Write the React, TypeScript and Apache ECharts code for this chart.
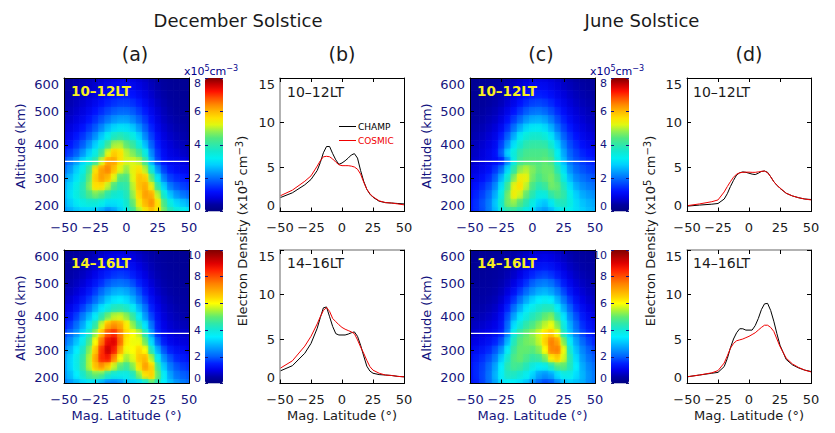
import React, { useEffect, useRef } from "react";
import * as echarts from "echarts";

// Latitude / altitude grids of the colour maps
const mapLats = [-50,-45,-40,-35,-30,-25,-20,-15,-10,-5,0,5,10,15,20,25,30,35,40,45,50];
const mapAlts = [600,575,550,525,500,475,450,425,400,375,350,325,300,275,250,225,200];

const decMorning = [
[.35,.38,.42,.48,.55,.62,.7,.78,.85,.9,.9,.85,.75,.65,.52,.42,.35,.3,.28,.26,.25],
[.38,.42,.48,.55,.62,.72,.82,.92,1.0,1.05,1.05,1.0,.88,.75,.6,.48,.4,.34,.3,.28,.27],
[.42,.47,.54,.62,.72,.84,.96,1.1,1.2,1.28,1.28,1.2,1.05,.88,.7,.55,.45,.38,.33,.3,.28],
[.46,.53,.62,.72,.85,1.0,1.16,1.33,1.47,1.56,1.56,1.46,1.28,1.05,.82,.64,.5,.42,.36,.33,.3],
[.52,.6,.7,.84,1.0,1.2,1.42,1.64,1.83,1.93,1.93,1.8,1.55,1.27,.98,.74,.57,.46,.4,.36,.33],
[.6,.7,.84,1.0,1.22,1.47,1.77,2.05,2.3,2.42,2.4,2.2,1.9,1.53,1.15,.85,.64,.52,.45,.4,.36],
[.72,.84,1.0,1.22,1.5,1.82,2.2,2.6,2.9,3.05,3.0,2.75,2.35,1.85,1.36,.98,.73,.6,.5,.45,.4],
[.86,1.0,1.24,1.5,1.85,2.27,2.75,3.25,3.75,3.9,3.7,3.4,2.85,2.2,1.6,1.14,.83,.68,.58,.5,.45],
[1.05,1.24,1.5,1.85,2.3,2.8,3.4,4.15,4.9,4.95,4.5,4.1,3.45,2.65,1.88,1.3,.95,.78,.66,.58,.5],
[1.35,1.55,1.85,2.3,2.8,3.35,4.2,5.2,5.8,5.6,5.0,4.7,4.25,3.4,2.2,1.48,1.08,.88,.78,.68,.6],
[1.75,2.05,2.4,2.9,3.4,4.0,5.1,6.15,6.15,5.55,5.15,5.15,5.0,4.2,2.5,1.65,1.2,1.0,.95,.85,.75],
[2.0,2.35,2.8,3.3,4.2,5.6,6.2,6.4,5.9,5.2,4.8,5.3,5.6,5.0,3.5,2.3,1.6,1.25,1.1,1.0,.95],
[2.3,2.65,3.05,3.6,4.5,5.8,6.2,6.0,5.2,4.4,4.3,5.2,5.9,5.8,4.5,3.1,2.1,1.6,1.4,1.3,1.2],
[2.5,2.9,3.35,3.85,4.7,5.6,5.6,5.0,4.3,3.9,4.0,5.0,5.9,6.1,5.4,4.0,2.8,2.1,1.8,1.6,1.5],
[2.6,3.0,3.4,3.8,4.3,4.6,4.4,3.9,3.6,3.5,3.8,4.8,5.7,6.2,6.1,5.0,3.6,2.7,2.3,2.05,1.9],
[2.5,2.8,3.1,3.35,3.5,3.5,3.3,3.0,3.0,3.1,3.6,4.5,5.4,6.0,6.3,5.6,4.3,3.4,2.9,2.7,2.5],
[2.3,2.5,2.7,2.8,2.8,2.75,2.5,2.2,2.4,2.8,3.3,4.1,4.9,5.5,5.9,5.5,4.6,3.9,3.5,3.3,3.1],
];
const decAfternoon = [
[.3,.33,.37,.42,.5,.58,.68,.78,.85,.88,.85,.78,.66,.55,.45,.38,.33,.3,.27,.25,.24],
[.33,.37,.42,.5,.58,.7,.83,.96,1.05,1.1,1.06,.95,.8,.66,.53,.43,.36,.32,.3,.27,.25],
[.37,.42,.5,.58,.7,.85,1.03,1.2,1.33,1.38,1.33,1.18,.98,.8,.62,.5,.41,.35,.32,.29,.27],
[.42,.5,.58,.7,.86,1.06,1.3,1.5,1.65,1.72,1.65,1.45,1.2,.96,.73,.57,.46,.39,.35,.31,.29],
[.5,.58,.7,.86,1.08,1.34,1.62,1.92,2.12,2.2,2.1,1.85,1.5,1.18,.87,.66,.52,.44,.38,.34,.32],
[.58,.7,.86,1.08,1.36,1.7,2.1,2.5,2.8,2.9,2.75,2.4,1.9,1.44,1.05,.78,.6,.5,.43,.38,.35],
[.72,.86,1.08,1.36,1.7,2.1,2.6,3.1,3.4,3.5,3.3,2.9,2.3,1.75,1.25,.92,.7,.57,.48,.42,.38],
[.9,1.08,1.36,1.75,2.2,2.8,3.4,3.9,4.3,4.4,4.2,3.7,2.9,2.2,1.5,1.08,.8,.65,.55,.47,.42],
[1.1,1.36,1.75,2.3,2.9,3.6,4.4,5.1,5.6,5.7,5.3,4.6,3.6,2.6,1.8,1.25,.9,.73,.62,.55,.5],
[1.38,1.7,2.15,2.75,3.6,4.5,5.7,6.9,7.3,7.0,6.2,5.3,4.4,3.4,2.2,1.4,1.02,.83,.72,.65,.6],
[1.7,2.1,2.55,3.2,4.2,5.3,6.7,8.0,8.4,7.5,6.35,6.0,5.6,4.3,2.6,1.55,1.15,.95,.85,.8,.75],
[2.05,2.5,3.05,3.75,4.75,6.0,7.6,8.8,9.0,7.7,6.2,5.9,5.9,5.1,3.3,2.0,1.4,1.1,.98,.92,.88],
[2.4,2.9,3.5,4.2,5.2,6.6,8.3,9.2,8.6,7.0,5.9,6.0,6.4,6.0,4.3,2.8,1.9,1.45,1.25,1.15,1.05],
[2.7,3.2,3.8,4.5,5.5,7.0,8.4,8.6,7.4,6.0,5.4,5.8,6.6,6.8,5.5,3.7,2.5,1.9,1.55,1.4,1.3],
[2.7,3.2,3.8,4.55,5.5,6.7,7.2,6.6,5.6,4.9,4.6,5.2,6.3,7.1,6.5,4.6,3.1,2.3,1.9,1.7,1.6],
[2.6,3.0,3.5,4.1,4.7,5.0,4.8,4.2,3.9,3.8,3.8,4.2,5.2,6.3,6.5,5.0,3.6,2.7,2.2,2.0,1.9],
[2.3,2.6,2.9,3.2,3.4,3.3,2.8,2.35,2.3,2.5,3.0,3.1,3.3,3.8,4.8,4.3,3.5,3.0,2.6,2.3,2.1],
];
const junMorning = [
[.25,.26,.28,.3,.33,.38,.45,.55,.65,.75,.85,.88,.85,.78,.68,.58,.5,.43,.38,.34,.32],
[.27,.28,.3,.33,.37,.44,.52,.64,.76,.9,1.0,1.05,1.02,.92,.8,.68,.58,.5,.44,.4,.36],
[.28,.3,.33,.37,.42,.5,.62,.76,.95,1.12,1.25,1.3,1.25,1.12,.96,.8,.68,.58,.5,.45,.4],
[.3,.33,.36,.42,.48,.58,.74,.95,1.2,1.42,1.58,1.63,1.55,1.38,1.15,.95,.78,.66,.57,.5,.45],
[.33,.37,.42,.48,.56,.7,.92,1.2,1.52,1.82,2.0,2.05,1.93,1.7,1.4,1.13,.92,.76,.65,.57,.5],
[.37,.42,.48,.56,.66,.85,1.16,1.55,1.95,2.3,2.5,2.55,2.42,2.1,1.7,1.35,1.08,.88,.74,.64,.56],
[.42,.48,.55,.65,.78,1.05,1.47,2.0,2.5,2.9,3.1,3.12,2.95,2.55,2.05,1.6,1.27,1.02,.85,.72,.64],
[.47,.54,.63,.75,.92,1.3,1.85,2.5,3.1,3.5,3.65,3.65,3.5,3.05,2.45,1.88,1.48,1.2,.98,.84,.74],
[.52,.6,.72,.86,1.05,1.6,2.3,3.0,3.6,3.95,4.05,4.05,4.0,3.6,2.85,2.2,1.7,1.4,1.15,1.0,.88],
[.58,.66,.8,.95,1.15,1.85,2.8,3.45,4.0,4.25,4.3,4.3,4.35,4.05,3.2,2.45,1.9,1.6,1.35,1.2,1.08],
[.65,.72,.85,.98,1.1,1.3,2.2,3.35,4.2,4.4,4.42,4.4,4.5,4.35,3.4,2.65,2.05,1.75,1.55,1.4,1.3],
[.75,.85,1.0,1.15,1.5,2.0,2.9,4.0,4.8,5.0,4.7,4.45,4.55,4.55,3.9,3.0,2.3,1.95,1.75,1.6,1.5],
[.85,1.0,1.15,1.38,1.85,2.55,3.6,4.7,5.4,5.3,4.6,4.3,4.5,4.65,4.3,3.4,2.6,2.2,2.0,1.85,1.75],
[1.0,1.2,1.4,1.7,2.2,3.0,4.2,5.3,5.6,5.0,4.3,3.9,4.1,4.6,4.5,3.8,3.0,2.5,2.25,2.1,2.0],
[1.15,1.35,1.6,1.95,2.5,3.4,4.6,5.4,5.1,4.5,3.9,3.4,3.4,4.0,4.3,4.0,3.3,2.8,2.5,2.35,2.25],
[1.25,1.45,1.75,2.1,2.7,3.6,4.6,4.8,4.4,3.9,3.35,2.85,2.7,3.1,3.7,3.8,3.4,2.95,2.7,2.55,2.45],
[1.25,1.45,1.7,2.1,2.6,3.3,3.9,4.0,3.7,3.3,2.9,2.5,2.35,2.6,3.0,3.3,3.2,3.0,2.8,2.65,2.55],
];
const junAfternoon = [
[.25,.26,.27,.28,.3,.33,.38,.45,.55,.65,.75,.82,.85,.8,.7,.6,.5,.42,.36,.32,.3],
[.26,.27,.28,.3,.33,.37,.44,.53,.66,.8,.95,1.03,1.06,1.0,.88,.74,.6,.5,.43,.38,.35],
[.27,.28,.3,.33,.36,.42,.5,.63,.8,1.0,1.18,1.3,1.35,1.27,1.1,.9,.73,.6,.5,.44,.4],
[.29,.31,.33,.36,.4,.47,.6,.77,1.0,1.27,1.52,1.7,1.77,1.65,1.4,1.13,.9,.72,.6,.52,.46],
[.32,.34,.37,.4,.46,.56,.73,.97,1.3,1.65,2.0,2.25,2.33,2.17,1.82,1.42,1.1,.87,.71,.6,.52],
[.36,.38,.42,.46,.53,.67,.92,1.25,1.7,2.1,2.5,2.8,2.9,2.7,2.3,1.8,1.36,1.05,.85,.7,.6],
[.4,.43,.47,.53,.62,.82,1.18,1.65,2.2,2.75,3.2,3.5,3.65,3.5,2.9,2.25,1.7,1.28,1.0,.82,.7],
[.46,.5,.54,.62,.74,1.0,1.5,2.15,2.8,3.4,3.8,4.1,4.3,4.3,3.6,2.8,2.05,1.55,1.2,.97,.82],
[.54,.6,.65,.74,.88,1.2,1.85,2.7,3.4,3.9,4.3,4.6,5.0,5.2,4.4,3.4,2.45,1.85,1.42,1.15,.98],
[.64,.72,.8,.9,1.02,1.32,2.1,3.3,4.0,4.5,4.8,5.2,5.6,5.9,5.2,3.9,2.8,2.1,1.62,1.33,1.15],
[.75,.85,.95,1.05,1.2,1.45,2.3,3.9,4.6,5.0,5.3,5.7,6.3,6.6,5.9,4.2,3.0,2.3,1.8,1.5,1.3],
[.9,1.0,1.12,1.25,1.5,1.9,2.9,4.3,4.9,5.1,5.2,5.6,6.5,7.5,7.1,5.2,3.6,2.7,2.1,1.75,1.5],
[1.05,1.2,1.35,1.55,1.9,2.5,3.6,4.6,5.0,5.0,4.9,5.2,6.0,7.4,7.5,5.9,4.1,3.0,2.4,2.0,1.75],
[1.2,1.4,1.6,1.85,2.3,3.1,4.1,4.8,5.0,4.75,4.5,4.6,5.1,6.2,6.5,5.7,4.4,3.3,2.6,2.2,1.95],
[1.3,1.55,1.75,2.1,2.7,3.5,4.4,4.7,4.6,4.3,3.9,3.6,3.7,4.2,4.8,4.9,4.3,3.5,2.8,2.4,2.15],
[1.3,1.55,1.8,2.2,2.85,3.6,4.2,4.2,4.0,3.7,3.2,2.7,2.5,2.7,3.3,3.8,3.8,3.3,2.9,2.5,2.25],
[1.25,1.45,1.75,2.15,2.7,3.3,3.5,3.5,3.3,3.0,2.5,2.05,1.8,1.9,2.4,2.9,3.1,3.0,2.8,2.45,2.2],
];

// Electron density at 350 km, per panel
const lineLats = [-50,-40,-30,-25,-20,-17.5,-15,-12.5,-10,-7.5,-5,-2.5,0,2.5,5,7.5,10,12.5,15,17.5,20,22.5,25,30,35,40,45,50];
const champDecMorning = [1.55,2.1,3.0,3.6,4.6,5.5,6.6,7.3,7.3,6.5,5.8,5.3,5.45,5.7,6.0,6.35,6.5,6.0,4.6,3.4,2.5,1.95,1.6,1.15,1.0,.95,.9,.85];
const cosmicDecMorning = [1.75,2.4,3.4,4.0,5.1,5.7,6.15,6.2,6.15,5.9,5.55,5.25,5.15,5.15,5.15,5.1,5.0,4.75,4.2,3.3,2.5,2.0,1.65,1.2,1.0,.95,.85,.75];
const champDecAfternoon = [1.4,2.0,3.4,4.5,6.2,7.4,8.5,8.6,7.5,6.4,5.6,5.45,5.45,5.45,5.55,5.7,5.8,5.3,4.3,3.1,1.95,1.4,1.15,1.0,.95,.9,.8,.75];
const cosmicDecAfternoon = [1.7,2.55,4.2,5.3,6.7,7.5,8.2,8.55,8.1,7.3,6.95,6.6,6.3,6.1,5.95,5.8,5.6,4.9,4.1,3.4,2.6,1.9,1.5,1.15,.95,.9,.8,.75];
const champJunMorning = [.6,.72,.82,.9,1.4,2.0,2.8,3.5,4.1,4.35,4.45,4.4,4.3,4.2,4.15,4.3,4.5,4.55,4.4,3.9,3.35,2.95,2.6,2.05,1.75,1.55,1.4,1.35];
const cosmicJunMorning = [.65,.85,1.1,1.3,2.2,2.8,3.35,3.85,4.2,4.35,4.4,4.42,4.42,4.4,4.4,4.45,4.5,4.55,4.35,3.9,3.35,2.95,2.65,2.05,1.75,1.55,1.4,1.3];
const champJunAfternoon = [.75,.95,1.15,1.25,1.9,2.8,4.0,5.0,5.7,6.15,6.15,6.0,6.0,6.0,6.5,7.3,8.3,8.95,9.0,8.2,7.0,5.6,4.3,2.7,2.1,1.75,1.5,1.35];
const cosmicJunAfternoon = [.75,.95,1.2,1.45,2.3,3.1,3.95,4.5,4.8,4.9,5.0,5.15,5.3,5.5,5.7,6.0,6.3,6.55,6.55,6.3,5.85,5.0,4.15,2.85,2.2,1.8,1.5,1.3];

const heatTicksMax = [8, 10];
const tropicLine = [-50, 50];
const tropicAlt = 350;
const paletteTo8 = ["#000080","#00009f","#0000dd","#0010ff","#0040ff","#0070ff","#00a0ff","#00d0ff","#00f0f0","#10e8d0","#30e8a8","#50e880","#90f050","#e0f810","#ffe000","#ffb800","#ff8800","#ff5000","#ff1000","#c80000","#800000"];
const paletteTo10 = ["#000080","#0000a8","#0000e8","#0020ff","#0060ff","#0090ff","#00c0ff","#00f0ff","#10e8d8","#30e8a8","#60ec70","#b0f430","#ffff00","#ffd000","#ffa800","#ff8000","#ff5000","#ff2000","#e00000","#b00000","#800000"];

const FONT = "DejaVu Sans";
const NAVY = "#14147e";
const INK = "#1a1a1a";
const minus = (v: number) => String(v).replace("-", "\u2212");

function App() {
  const ref = useRef<HTMLDivElement>(null);
  useEffect(() => {
    document.body.style.margin = "0";
    const chart = echarts.init(ref.current!, undefined, { renderer: "svg" });

    const grid: any[] = [], xAxis: any[] = [], yAxis: any[] = [], series: any[] = [], visualMap: any[] = [];

    const frame = (left: number, top: number, width: number, height: number, o: any) => {
      const g = grid.length;
      grid.push({ left, top, width, height, show: false });
      const color = o.color;
      const line = { show: true, onZero: false, lineStyle: { color: "#000", width: 1 } };
      const tick = { show: true, inside: true, length: o.tick ?? 4, lineStyle: { color: o.tickColor ?? "#000", width: 1 } };
      const xBase = { type: "value", gridIndex: g, min: -50, max: 50, interval: 25, splitLine: { show: false }, z: 6 };
      const yBase = { type: "value", gridIndex: g, min: o.yMin, max: o.yMax, interval: o.yStep, splitLine: { show: false }, z: 6 };
      const xi = xAxis.length, yi = yAxis.length;
      xAxis.push({
        ...xBase, position: "bottom", show: !o.noX, axisLine: line, axisTick: tick,
        axisLabel: { show: !o.noXLabel, margin: 9, color, fontFamily: FONT, fontSize: 13, formatter: minus, hideOverlap: false },
        name: o.xName, nameLocation: "middle", nameGap: 25,
        nameTextStyle: { color, fontFamily: FONT, fontSize: 13 },
      });
      xAxis.push({
        ...xBase, position: "top", show: !o.noX, axisLine: { ...line, lineStyle: { color: o.topColor ?? "#000", width: o.topColor ? 1.5 : 1 } }, axisTick: tick, axisLabel: { show: false },
      });
      yAxis.push({
        ...yBase, position: "left",
        axisLine: { ...line, lineStyle: { color: o.leftColor ?? "#000", width: o.leftColor ? 1.5 : 1 } },
        axisTick: tick,
        axisLabel: {
          margin: o.yMargin ?? 5, color, fontFamily: FONT, fontSize: o.yFont ?? 13, hideOverlap: false,
          verticalAlignMinLabel: "bottom", verticalAlignMaxLabel: "top",
        },
      });
      yAxis.push({ ...yBase, position: "right", axisLine: line, axisTick: tick, axisLabel: { show: false } });
      return { x: xi, y: yi };
    };

    // Every read value gets exactly one cell; the cell's fill shades towards its neighbours' colours.
    const heatPanel = (left: number, top: number, rows: number[][], max: number, barLeft: number, xName?: string) => {
      const palette = max === 8 ? paletteTo8 : paletteTo10;
      const ax = frame(left, top, 125, 133.5, { color: NAVY, yMin: 200, yMax: 600, yStep: 100, xName });
      const data: number[][] = [];
      mapAlts.forEach((alt, r) => mapLats.forEach((lat, c) => data.push([lat, alt, rows[r][c], r, c])));
      const tone = (v: number) => echarts.color.lerp(v / max, palette) as string;
      const shade = (before: number | undefined, self: number, after: number | undefined) => {
        const stops: any[] = [];
        if (before === undefined) stops.push({ offset: 0, color: tone(self) });
        else {
          stops.push({ offset: 0, color: tone((before + self) / 2) });
          if (after !== undefined) stops.push({ offset: 0.5, color: tone(self) });
        }
        if (after === undefined) { if (before !== undefined) stops.push({ offset: 1, color: tone(self) }); }
        else stops.push({ offset: 1, color: tone((self + after) / 2) });
        return stops;
      };
      const layer = (vertical: boolean, z: number, opacity: number, grow: number) => ({
        type: "custom", xAxisIndex: ax.x, yAxisIndex: ax.y, data, silent: true, z,
        encode: { x: 0, y: 1 },
        renderItem: (params: any, api: any) => {
          const lat = api.value(0), alt = api.value(1), v = api.value(2), r = api.value(3), c = api.value(4);
          const a = api.coord([lat - 2.5, alt + 12.5]);
          const b = api.coord([lat + 2.5, alt - 12.5]);
          const cs = params.coordSys;
          const shape = echarts.graphic.clipRectByRect(
            { x: a[0] - grow, y: a[1] - grow, width: b[0] - a[0] + 2 * grow, height: b[1] - a[1] + 2 * grow },
            { x: cs.x, y: cs.y, width: cs.width, height: cs.height }
          );
          if (!shape) return null;
          const stops = vertical
            ? shade(rows[r - 1]?.[c], v, rows[r + 1]?.[c])
            : shade(rows[r][c - 1], v, rows[r][c + 1]);
          const fill = vertical
            ? new echarts.graphic.LinearGradient(0, 0, 0, 1, stops)
            : new echarts.graphic.LinearGradient(0, 0, 1, 0, stops);
          return { type: "rect", shape, style: { fill, opacity } };
        },
      });
      const heatIndex = series.length;
      series.push(layer(false, 2, 1, 0.3));
      series.push(layer(true, 3, 0.5, 0));
      series.push({
        type: "line", xAxisIndex: ax.x, yAxisIndex: ax.y, showSymbol: false, silent: true, z: 4,
        data: tropicLine.map((lat) => [lat, tropicAlt]), lineStyle: { color: "#fff", width: 1.2 },
      });
      visualMap.push({
        type: "continuous", seriesIndex: heatIndex, dimension: 2, min: 0, max, show: true,
        calculable: false, realtime: false, hoverLink: false, left: barLeft, top, itemWidth: 18, itemHeight: 133.5,
        padding: 0, text: null, showLabel: false, inRange: { color: palette }, z: 3,
      });
      frameBar(barLeft, top, max);
    };

    const frameBar = (left: number, top: number, max: number) => {
      frame(left, top, 18, 133.5, {
        color: NAVY, yMin: 0, yMax: max, yStep: 2, noX: true, yFont: 11, yMargin: 4, tick: 3, tickColor: "#14147e",
      });
      yAxis[yAxis.length - 2].axisLine.show = false;
      yAxis[yAxis.length - 1].axisLine.show = false;
    };

    const linePanel = (left: number, top: number, champ: number[], cosmic: number[], o: any = {}) => {
      const ax = frame(left, top, 124, 133.5, { color: INK, yMin: 0, yMax: 15, yStep: 5, ...o });
      const add = (name: string, vals: number[], color: string, z: number) =>
        series.push({
          name, type: "line", xAxisIndex: ax.x, yAxisIndex: ax.y, showSymbol: false, silent: true, z,
          itemStyle: { color }, lineStyle: { color, width: 1 },
          data: lineLats.map((lat, i) => [lat, vals[i]]),
        });
      add("CHAMP", champ, "#000", 3);
      add("COSMIC", cosmic, "#f00000", 4);
    };

    const xName = "Mag. Latitude (\u00b0)";
    heatPanel(64, 78, decMorning, heatTicksMax[0], 205);
    heatPanel(64, 250, decAfternoon, heatTicksMax[1], 205, xName);
    heatPanel(470, 78, junMorning, heatTicksMax[0], 611);
    heatPanel(470, 250, junAfternoon, heatTicksMax[1], 611, xName);
    linePanel(280, 78, champDecMorning, cosmicDecMorning, { leftColor: "#999" });
    linePanel(280, 250, champDecAfternoon, cosmicDecAfternoon, { leftColor: "#999", topColor: "#999", xName });
    linePanel(687, 78, champJunMorning, cosmicJunMorning);
    linePanel(687, 250, champJunAfternoon, cosmicJunAfternoon, { topColor: "#999", xName });

    const txt = (text: string, x: number, y: number, o: any = {}) => ({
      type: "text", x, y, rotation: o.rotation ?? 0, z: 20, silent: true,
      style: {
        text, fontFamily: FONT, fontSize: o.size ?? 13, fontWeight: o.weight ?? "normal", fill: o.color ?? INK,
        align: o.align ?? "center", verticalAlign: "middle", rich: o.rich,
      },
    });
    const sup = (size: number, color: string, raise: number) => ({
      b: { fontFamily: FONT, fontSize: size + 3, fill: color, color },
      s: { fontFamily: FONT, fontSize: size, fill: color, color, padding: [0, 0, raise, 0] },
    });
    const unitBar = "{b|x10}{s|5}{b|cm}{s|\u22123}";
    const unitAxis = "{b|Electron Density (x10}{s|5}{b| cm}{s|\u22123}{b|)}";
    const Y = 231;
    const YELLOW = { align: "left", color: "#f8f020", weight: "bold", size: 13.5 };
    const BLACK = { align: "left", size: 14 };

    const graphic = [
      txt("December Solstice", 238, 20, { size: 18 }),
      txt("June Solstice", 642, 20, { size: 18 }),
      txt("(a)", 135, 54, { size: 19 }),
      txt("(b)", 342, 54, { size: 19 }),
      txt("(c)", 541, 54, { size: 19 }),
      txt("(d)", 749, 54, { size: 19 }),
      txt(unitBar, 211, 71, { size: 11, color: "#00008b", rich: sup(8, "#00008b", 5) }),
      txt(unitBar, 617, 71, { size: 11, color: "#00008b", rich: sup(8, "#00008b", 5) }),
      txt("Altitude (km)", 20, 146, { rotation: Math.PI / 2, color: NAVY }),
      txt("Altitude (km)", 20, 318, { rotation: Math.PI / 2, color: NAVY }),
      txt("Altitude (km)", 426, 146, { rotation: Math.PI / 2, color: NAVY }),
      txt("Altitude (km)", 426, 318, { rotation: Math.PI / 2, color: NAVY }),
      txt(unitAxis, 242, Y, { rotation: Math.PI / 2, rich: sup(10, INK, 5) }),
      txt(unitAxis, 650, Y, { rotation: Math.PI / 2, rich: sup(10, INK, 5) }),
      txt("10\u201312LT", 71, 91, YELLOW),
      txt("14\u201316LT", 71, 263, YELLOW),
      txt("10\u201312LT", 477, 91, YELLOW),
      txt("14\u201316LT", 477, 263, YELLOW),
      txt("10\u201312LT", 287, 92, BLACK),
      txt("14\u201316LT", 287, 263, BLACK),
      txt("10\u201312LT", 693, 92, BLACK),
      txt("14\u201316LT", 693, 263, BLACK),
    ];

    chart.setOption({
      animation: false,
      backgroundColor: "#fff",
      grid, xAxis, yAxis, series, visualMap, graphic,
      legend: {
        show: true, left: 339, top: 122, padding: 0, orient: "vertical", itemWidth: 17, itemHeight: 1, itemGap: 5,
        icon: "rect", selectedMode: false,
        textStyle: { fontFamily: FONT, fontSize: 9, color: "#000", padding: [0, 0, 0, -3] },
        data: [
          { name: "CHAMP", textStyle: { color: "#000" } },
          { name: "COSMIC", textStyle: { color: "#f00000" } },
        ],
      },
    });
    return () => chart.dispose();
  }, []);
  return <div ref={ref} style={{ width: 835, height: 433 }} />;
}

export default App;
